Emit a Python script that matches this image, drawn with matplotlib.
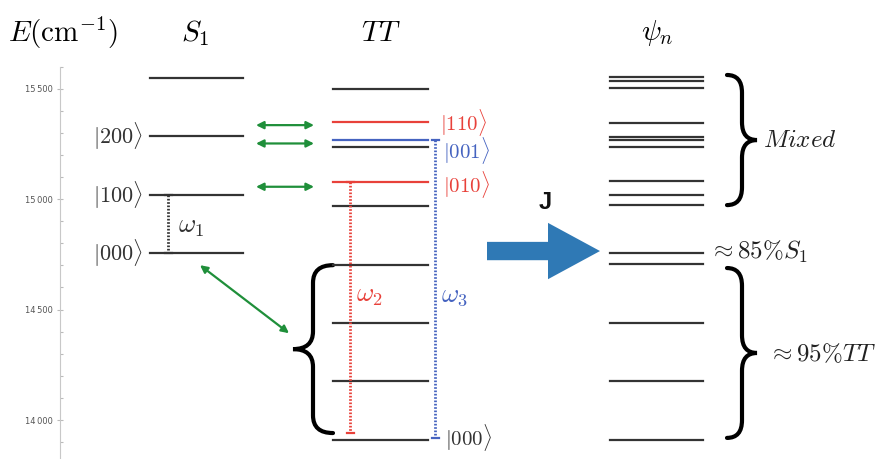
import matplotlib
matplotlib.use('Agg')
from matplotlib import pyplot as plt
from matplotlib.path import Path
from matplotlib.patches import PathPatch, FancyArrow
from matplotlib.ticker import FixedLocator, FuncFormatter
import numpy as np

# energies (cm^-1)
s1_levels = [14755, 15020, 15286, 15547]
s1_labels = [r'$|000\rangle$', r'$|100\rangle$', r'$|200\rangle$', None]
tt_levels = [13910, 14175, 14441, 14703, 14970, 15079, 15235, 15268, 15348, 15499]
tt_colors = ['k', 'k', 'k', 'k', 'k', 'r', 'k', 'b', 'r', 'k']
psi_levels = [13910, 14175, 14441, 14705, 14755, 14974, 15019, 15082, 15235,
              15268, 15280, 15346, 15502, 15536, 15554]
coupling_e = [15056, 15252, 15335]
diag_arrow = (14701, 14393)
omega1 = (15020, 14755)
omega2 = (15079, 13941)
omega3 = (15268, 13920)
j_arrow_e = 14765

RED = '#e8413a'
BLUE = '#4563c0'
GREEN = '#1f8f3a'
DARK = '#333333'
cmap = {'k': DARK, 'r': RED, 'b': BLUE}

plt.rcParams['mathtext.fontset'] = 'cm'

fig = plt.figure(figsize=(8.82, 4.59), dpi=100)
ax = fig.add_axes([0, 0, 1, 1])
ax.set_xlim(0, 882)
ax.set_ylim(13823.5, 15901.5)

# axis
for s in ['top', 'right', 'bottom']:
    ax.spines[s].set_visible(False)
ax.spines['left'].set_position(('data', 59.5))
ax.spines['left'].set_bounds(13823.5, 15600)
ax.spines['left'].set_color('#c8c8c8')
ax.set_xticks([])
ax.yaxis.set_major_locator(FixedLocator([14000, 14500, 15000, 15500]))
ax.yaxis.set_minor_locator(FixedLocator([v for v in range(13900, 15700, 100) if v % 500]))
ax.yaxis.set_major_formatter(FuncFormatter(lambda v, p: f'{int(v) // 1000}\u2009{int(v) % 1000:03d}'))
ax.tick_params(axis='y', which='major', direction='inout', length=5, width=0.8,
               color='#bbbbbb', labelsize=6, labelcolor='#555555', pad=2)
ax.tick_params(axis='y', which='minor', direction='in', length=2.5, width=0.8, color='#bbbbbb')

# levels
for e in s1_levels:
    ax.plot([150, 243], [e, e], color=DARK, lw=1.6)
for e, lab in zip(s1_levels, s1_labels):
    if lab:
        ax.text(143, e, lab, ha='right', va='center', fontsize=16, color=DARK)
for e, c in zip(tt_levels, tt_colors):
    ax.plot([333, 428], [e, e], color=cmap[c], lw=1.6)
for e in psi_levels:
    ax.plot([610, 703], [e, e], color=DARK, lw=1.6)

ax.text(440, tt_levels[8], r'$|110\rangle$', ha='left', va='center', fontsize=15, color=RED)
ax.text(443, 15222, r'$|001\rangle$', ha='left', va='center', fontsize=15, color=BLUE)
ax.text(443, 15067, r'$|010\rangle$', ha='left', va='center', fontsize=15, color=RED)
ax.text(445, 13921, r'$|000\rangle$', ha='left', va='center', fontsize=15, color=DARK)

# couplings
for e in coupling_e:
    ax.annotate('', xy=(314, e), xytext=(256, e),
                arrowprops=dict(arrowstyle='<|-|>', color=GREEN, lw=1.6,
                                mutation_scale=11, shrinkA=0, shrinkB=0))
ax.annotate('', xy=(289, diag_arrow[1]), xytext=(200, diag_arrow[0]),
            arrowprops=dict(arrowstyle='<|-|>', color=GREEN, lw=1.6,
                            mutation_scale=11, shrinkA=0, shrinkB=0))


def omega(x, ends, color, label, lx, ly):
    ax.plot([x, x], ends, color=color, lw=2, ls=(0, (0.6, 0.6)))
    for e in ends:
        ax.plot([x - 3.5, x + 3.5], [e, e], color=color, lw=1.6)
    ax.text(lx, ly, label, color=color, fontsize=19, ha='left', va='center')


omega(168, omega1, DARK, r'$\omega_1$', 178, 14877)
omega(350, omega2, RED, r'$\omega_2$', 356, 14566)
omega(435, omega3, BLUE, r'$\omega_3$', 441, 14566)


def brace(x, e0, e1, w, r, side):
    em = (e0 + e1) / 2
    xt = x + side * w
    xe = x - side * w
    verts = [(xe, e1), (x, e1), (x, e1 - r), (x, em + r), (x, em), (xt, em),
             (x, em), (x, em - r), (x, e0 + r), (x, e0), (xe, e0)]
    codes = [Path.MOVETO, Path.CURVE3, Path.CURVE3, Path.LINETO, Path.CURVE3, Path.CURVE3,
             Path.CURVE3, Path.CURVE3, Path.LINETO, Path.CURVE3, Path.CURVE3]
    ax.add_patch(PathPatch(Path(verts, codes), fill=False, lw=3, color='k', capstyle='round'))


brace(313, 13941, 14701, 20, 80, -1)
brace(742, 14973, 15562, 15, 80, 1)
brace(742, 13919, 14688, 15, 80, 1)

ax.text(763, 15268, r'$Mixed$', fontsize=18, ha='left', va='center', color='#222222')
ax.text(709, 14760, r'$\approx 85\%S_1$', fontsize=18, ha='left', va='center', color='#222222')
ax.text(768, 14300, r'$\approx 95\%TT$', fontsize=18, ha='left', va='center', color='#222222')

# J arrow
ax.add_patch(FancyArrow(487, j_arrow_e, 113, 0, width=83, head_width=255, head_length=52,
                        length_includes_head=True, color='#2f79b5', lw=0))
ax.text(545, 14983, 'J', fontsize=17, fontweight='bold', family='Liberation Sans',
        ha='center', va='center', color='#111111')

# headers
fig.text(63 / 882, 1 - 33 / 459, r'$E(\mathrm{cm}^{-1})$', fontsize=21, ha='center', va='center')
fig.text(195 / 882, 1 - 33 / 459, r'$S_1$', fontsize=21, ha='center', va='center')
fig.text(381 / 882, 1 - 33 / 459, r'$TT$', fontsize=21, ha='center', va='center')
fig.text(657 / 882, 1 - 33 / 459, r'$\psi_n$', fontsize=21, ha='center', va='center')

fig.savefig('out.png', dpi=100)
